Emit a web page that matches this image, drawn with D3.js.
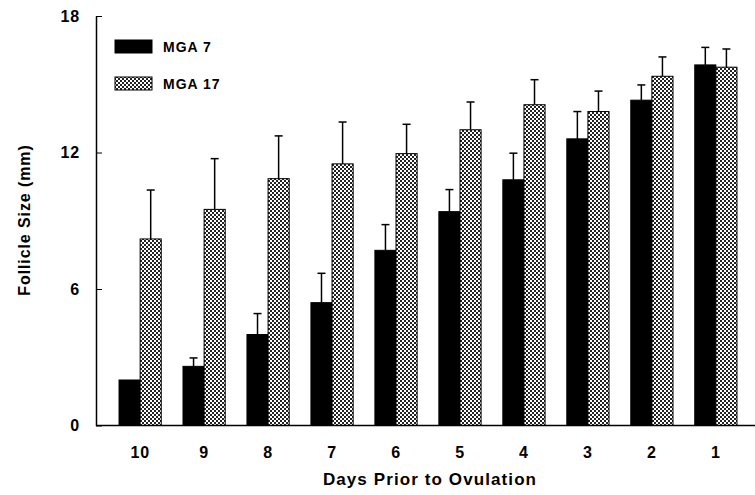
<!DOCTYPE html>
<html>
<head>
<meta charset="utf-8">
<script src="https://cdn.jsdelivr.net/npm/d3@7"></script>
<style>
  body { margin: 0; background: #fff; }
  svg { font-family: "Liberation Sans", Arial, sans-serif; font-weight: bold; }
</style>
</head>
<body>
<div class="chart"></div>
<script>
// days prior to ovulation
var days = ["10", "9", "8", "7", "6", "5", "4", "3", "2", "1"];
var series = ["MGA 7", "MGA 17"];
var mga7 = [2.0, 2.6, 4.0, 5.4, 7.7, 9.4, 10.8, 12.6, 14.3, 15.85];
var mga7Err = [0, 0.37, 0.92, 1.29, 1.13, 0.97, 1.17, 1.2, 0.67, 0.77];
var mga17 = [8.2, 9.5, 10.85, 11.5, 11.95, 13.0, 14.1, 13.8, 15.35, 15.75];
var mga17Err = [2.15, 2.23, 1.88, 1.84, 1.29, 1.22, 1.1, 0.9, 0.85, 0.8];
var yTicks = [0, 6, 12, 18];

var W = 755, H = 495;
var svg = d3.select(".chart").append("svg").attr("width", W).attr("height", H);

// stipple pattern for MGA 17
var defs = svg.append("defs");
var pat = defs.append("pattern")
    .attr("id", "stip")
    .attr("width", 4).attr("height", 4)
    .attr("patternUnits", "userSpaceOnUse");
pat.append("rect").attr("width", 4).attr("height", 4).attr("fill", "#fff");
pat.append("rect").attr("x", 0).attr("y", 0).attr("width", 2).attr("height", 2).attr("fill", "#222");
pat.append("rect").attr("x", 2).attr("y", 2).attr("width", 2).attr("height", 2).attr("fill", "#222");

var x = d3.scaleBand().domain(days).range([96, 760]).paddingInner(0.34).paddingOuter(0.36);
var xs = d3.scaleBand().domain(series).range([0, x.bandwidth()]);
var y = d3.scaleLinear().domain([0, 18]).range([425.5, 16]);

var fills = { "MGA 7": "#000", "MGA 17": "url(#stip)" };
var rows = [];
days.forEach(function (d, i) {
  rows.push({ day: d, s: "MGA 7", v: mga7[i], e: mga7Err[i] });
  rows.push({ day: d, s: "MGA 17", v: mga17[i], e: mga17Err[i] });
});

// error bars first (behind bars)
var eb = svg.append("g").attr("stroke", "#000").attr("stroke-width", 1.5);
rows.filter(function (r) { return r.e > 0; }).forEach(function (r) {
  var cx = x(r.day) + xs(r.s) + xs.bandwidth() / 2;
  eb.append("line").attr("x1", cx).attr("x2", cx).attr("y1", y(r.v)).attr("y2", y(r.v + r.e));
  eb.append("line").attr("x1", cx - 4).attr("x2", cx + 4).attr("y1", y(r.v + r.e)).attr("y2", y(r.v + r.e));
});

svg.append("g").selectAll("rect").data(rows).join("rect")
    .attr("x", function (r) { return x(r.day) + xs(r.s); })
    .attr("y", function (r) { return y(r.v); })
    .attr("width", xs.bandwidth())
    .attr("height", function (r) { return y(0) - y(r.v); })
    .attr("fill", function (r) { return fills[r.s]; })
    .attr("stroke", "#000")
    .attr("stroke-width", 1);

// axes
var yAxis = svg.append("g").attr("transform", "translate(96,0)")
    .call(d3.axisLeft(y).tickValues(yTicks).tickSizeInner(-6).tickSizeOuter(0).tickPadding(16));
yAxis.select(".domain").attr("stroke-width", 1.5);
yAxis.selectAll("text").attr("font-size", 16).attr("font-family", "Liberation Sans").attr("font-weight", "bold").attr("fill", "#000")
    .attr("letter-spacing", 0.8);

var xAxis = svg.append("g").attr("transform", "translate(0,425.5)")
    .call(d3.axisBottom(x).tickSize(0).tickPadding(21));
xAxis.select(".domain").attr("d", "M96,0H755").attr("stroke-width", 1.5);
xAxis.selectAll("text").attr("font-size", 16).attr("font-family", "Liberation Sans").attr("font-weight", "bold").attr("fill", "#000")
    .attr("letter-spacing", 0.8);

// axis titles
svg.append("text")
    .attr("x", 430).attr("y", 485)
    .attr("text-anchor", "middle")
    .attr("font-size", 17)
    .attr("letter-spacing", 1.1)
    .text("Days Prior to Ovulation");
svg.append("text")
    .attr("transform", "translate(30,220) rotate(-90)")
    .attr("text-anchor", "middle")
    .attr("font-size", 16)
    .attr("letter-spacing", 0.9)
    .text("Follicle Size (mm)");

// legend
var leg = svg.append("g");
series.forEach(function (s, i) {
  var ly = 40 + i * 37;
  leg.append("rect").attr("x", 115).attr("y", ly).attr("width", 37).attr("height", 13)
      .attr("fill", fills[s]).attr("stroke", "#000");
  leg.append("text").attr("x", 163).attr("y", ly + 12).attr("font-size", 14)
      .attr("letter-spacing", 1).text(s);
});
</script>
</body>
</html>
